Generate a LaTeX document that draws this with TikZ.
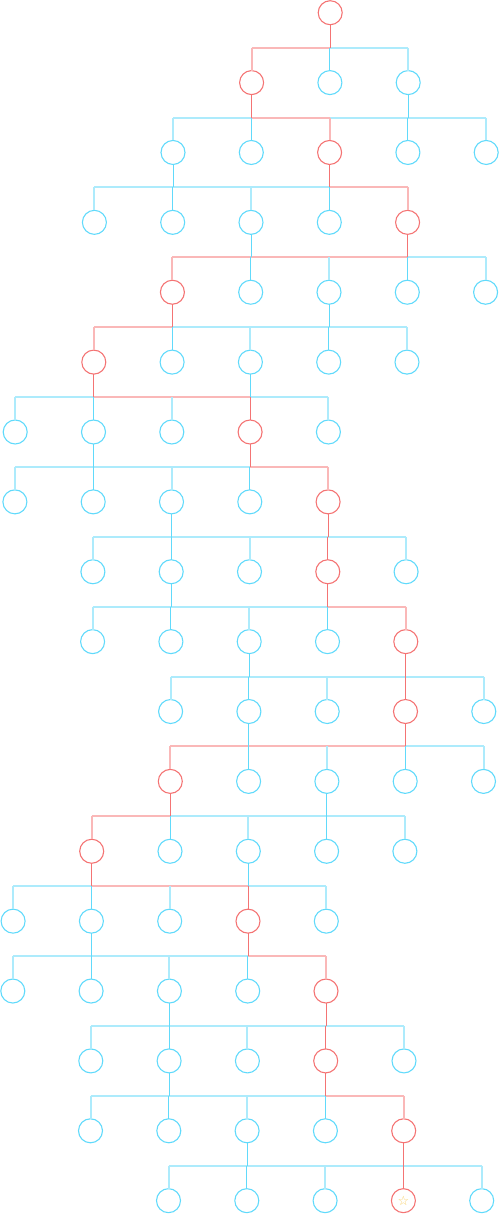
\documentclass[tikz,border=0pt]{standalone}
\usepackage{fontspec}
\newfontfamily\symfont{DejaVu Sans}
\definecolor{cy}{HTML}{61DAFB}
\definecolor{cyl}{HTML}{ADEBFC}
\definecolor{rd}{HTML}{F47474}
\definecolor{rdl}{HTML}{FAB8B8}
\definecolor{starc}{HTML}{F8D06A}
\tikzset{
  cnode/.style={circle,minimum size=24bp,inner sep=0pt,outer sep=0pt,draw=cy,line width=1.1bp},
  rnode/.style={cnode,draw=rd},
  thincy/.style={draw=cy,line width=1bp},
  thinrd/.style={draw=rd,line width=1bp},
  thickcy/.style={draw=cyl,line width=2bp},
  thickrd/.style={draw=rdl,line width=2bp},
}
\begin{document}
\begin{tikzpicture}[x=1bp,y=-1bp]
\useasboundingbox (0,0) rectangle (500,1214);
% nodes: level / kmin / kmax / red k
\foreach \L/\a/\b/\r in {0/4/4/4,1/3/5/3,2/2/6/4,3/1/5/5,4/2/6/2,5/1/5/1,6/0/4/3,7/0/4/4,8/1/5/4,9/1/5/5,10/2/6/5,11/2/6/2,12/1/5/1,13/0/4/3,14/0/4/4,15/1/5/4,16/1/5/5,17/2/6/5}{
  \foreach \k in {\a,...,\b}{
    \pgfmathsetmacro\xx{17-0.3*\L+78.3*\k}
    \pgfmathsetmacro\yy{12.7+69.88*\L}
    \ifnum\k=\r
      \node[rnode] (n-\L-\k) at (\xx,\yy) {};
    \else
      \node[cnode] (n-\L-\k) at (\xx,\yy) {};
    \fi
  }
}
\node[text=starc,font=\symfont\fontsize{13}{13}\selectfont,inner sep=0pt] (star) at (n-17-5) {☆};
% connectors: level / red parent k / other stem k / child kmin / child kmax / red child k
\foreach \L/\r/\o/\na/\nb/\nr in {0/4/-1/3/5/3,1/3/5/2/6/4,2/4/2/1/5/5,3/5/3/2/6/2,4/2/4/1/5/1,5/1/3/0/4/3,6/3/1/0/4/4,7/4/2/1/5/4,8/4/2/1/5/5,9/5/3/2/6/5,10/5/3/2/6/2,11/2/4/1/5/1,12/1/3/0/4/3,13/3/1/0/4/4,14/4/2/1/5/4,15/4/2/1/5/5,16/5/3/2/6/5}{
  \pgfmathtruncatemacro\M{\L+1}
  \pgfmathsetmacro\yb{12.7+69.88*\L+34.94}
  \foreach \k in {\na,...,\nb}{
    \coordinate (bus-\L-\k) at (n-\M-\k |- 0,\yb);
  }
  % bus
  \draw[thickcy] (bus-\L-\na) -- (bus-\L-\nb);
  \ifnum\r=\nr\else
    \draw[thickrd] (bus-\L-\r) -- (bus-\L-\nr);
  \fi
  % drops to children
  \foreach \k in {\na,...,\nb}{
    \ifnum\k=\r
      \ifnum\k=\nr \draw[thinrd] (bus-\L-\k) -- (n-\M-\k.north);
      \else \draw[thincy] (bus-\L-\k) -- (n-\M-\k.north); \fi
    \else\ifnum\k=\o
      \ifnum\k=\nr \draw[thinrd] (bus-\L-\k) -- (n-\M-\k.north);
      \else \draw[thincy] (bus-\L-\k) -- (n-\M-\k.north); \fi
    \else
      \ifnum\k=\nr \draw[thickrd] (bus-\L-\k) -- (n-\M-\k.north);
      \else \draw[thickcy] (bus-\L-\k) -- (n-\M-\k.north); \fi
    \fi\fi
  }
  % stems from parents
  \draw[thinrd] (n-\L-\r.south) -- (n-\L-\r.south |- bus-\L-\r);
  \ifnum\o>-1
    \draw[thincy] (n-\L-\o.south) -- (n-\L-\o.south |- bus-\L-\o);
  \fi
}
\end{tikzpicture}
\end{document}
